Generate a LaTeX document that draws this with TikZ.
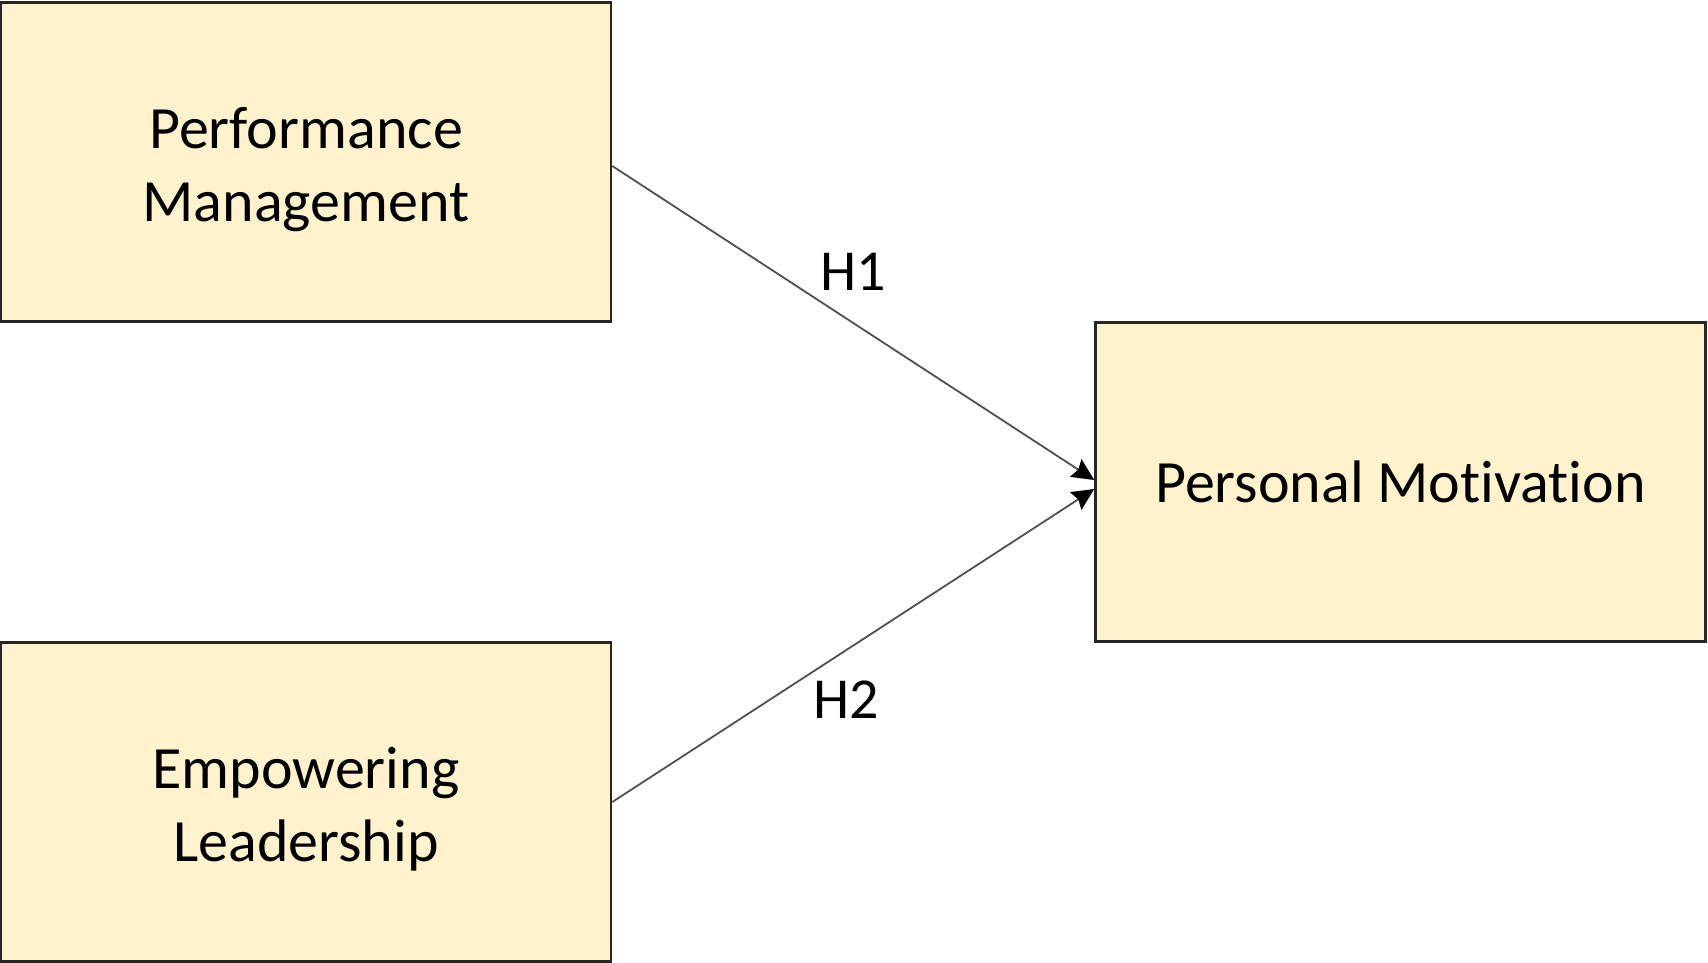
\documentclass[tikz,border=0pt]{standalone}
\usepackage{fontspec}
\setmainfont[Ligatures={NoCommon,NoContextual}]{Carlito}
\usetikzlibrary{arrows.meta}
\definecolor{boxfill}{HTML}{FFF2CC}
\definecolor{linegray}{HTML}{505050}
\tikzset{
  concept/.style={draw=black!85, line width=2.6pt, fill=boxfill, minimum width=610pt, minimum height=319pt, inner sep=0pt, align=center, font=\fontsize{60}{73}\selectfont},
  ctext/.style={font=\fontsize{60}{73}\selectfont, align=center, inner sep=0pt},
  hyp/.style={draw=linegray, line width=1.8pt, -{Stealth[length=22pt,width=21pt,inset=3pt,black]}},
  hlabel/.style={font=\fontsize{58}{70}\selectfont, inner sep=0pt}
}
\begin{document}
\begin{tikzpicture}[x=1pt,y=-1pt]
\useasboundingbox (0,0) rectangle (1708,963);
\node[concept] (pm) at (306,162) {};
\node[concept] (el) at (306,802) {};
\node[concept] (mot) at (1400.5,482) {Personal Mot\kern0pt ivation};
\node[ctext] (pmt) at (306,170) {Performance\\Management};
\node[ctext] (elt) at (306,809) {Empowering\\Leadership};
\coordinate (t1) at ([yshift=2pt]mot.west);
\coordinate (t2) at ([yshift=-7pt]mot.west);
\draw[hyp] ([yshift=-4pt]pm.east) -- (t1);
\draw[hyp] (el.east) -- (t2);
\node[hlabel] (h1) at (853,272) {H1};
\node[hlabel] (h2) at (846,700) {H2};
\end{tikzpicture}
\end{document}
